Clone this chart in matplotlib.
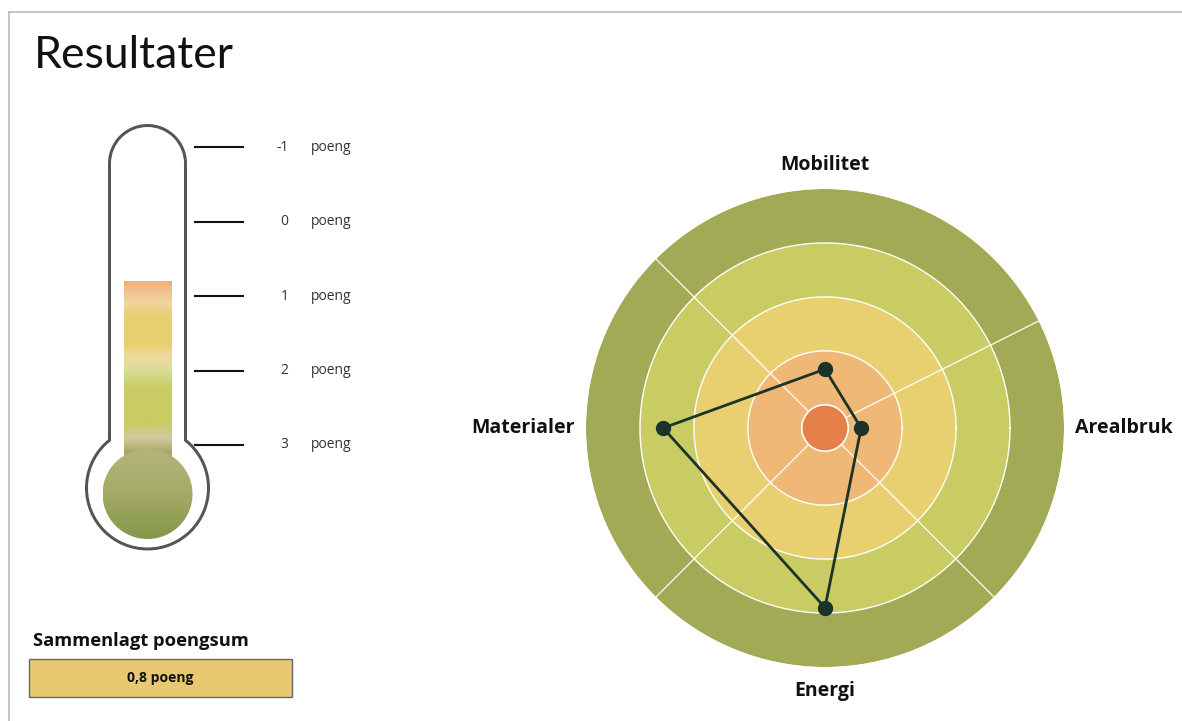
import numpy as np
import matplotlib
matplotlib.use("Agg")
import matplotlib.pyplot as plt
from matplotlib.patches import Circle, Rectangle
from matplotlib.colors import LinearSegmentedColormap, to_rgb

# ---------------- data ----------------
categories = ["Mobilitet", "Arealbruk", "Energi", "Materialer"]
category_angles_deg = [90, 0, 270, 180]
category_scores = [1.09, 0.67, 3.33, 3.0]          # radial position on the target
ring_edges = [0.43, 1.43, 2.43, 3.43, 4.43]          # centre disc + four rings
ring_colors = ["#E5804A", "#EFB877", "#E8D070", "#C8CC62", "#A2AA56"]
spoke_angles_deg = [135, 26.6, -45, 225]

scale_ticks = [-1, 0, 1, 2, 3]
total_score = 0.8

# ---------------- figure ----------------
W, H = 1182, 721
fig = plt.figure(figsize=(W / 100, H / 100), dpi=100)
fig.patch.set_facecolor("white")

LABEL_FONT = dict(family=["Open Sans", "DejaVu Sans"], weight="bold")
SMALL_FONT = dict(family=["Open Sans", "DejaVu Sans"])

# background layer in pixel coordinates (frame, title, total box)
bg = fig.add_axes([0, 0, 1, 1], zorder=0)
bg.set_xlim(0, W)
bg.set_ylim(H, 0)
bg.axis("off")
bg.plot([9, W], [12, 12], color="#BBBBBB", lw=1.2)
bg.plot([9, 9], [12, H], color="#BBBBBB", lw=1.2)
bg.text(34, 56, "Resultater", fontsize=32, family=["Lato", "DejaVu Sans"],
        weight="normal", color="#111111", va="center", ha="left")

bg.text(33, 641, "Sammenlagt poengsum", fontsize=13.2, color="#111111",
        va="center", ha="left", **LABEL_FONT)
bg.add_patch(Rectangle((29, 659), 263, 38, facecolor="#E8C870",
                       edgecolor="#666666", lw=1))
bg.text(160.5, 678, f"{total_score:.1f}".replace(".", ",") + " poeng",
        fontsize=10, color="#111111", va="center", ha="center",
        **LABEL_FONT)

# ---------------- thermometer (y axis = score) ----------------
STEP = 74.4  # pixels per score step
tx0, tx1, ty0, ty1 = 60, 400, 100, 570
th = fig.add_axes([tx0 / W, 1 - ty1 / H, (tx1 - tx0) / W, (ty1 - ty0) / H],
                  zorder=1)
th.set_xlim((tx0 - 147.5) / STEP, (tx1 - 147.5) / STEP)
th.set_ylim((ty1 - 221.7) / STEP, (ty0 - 221.7) / STEP)
th.axis("off")


def u(px):
    return px / STEP


cap_y = -0.782
bulb_y = 3.579
# outline drawn as a grey silhouette with a white silhouette on top
for half, rb, col in [(u(39.5), u(62.5), "#555555"), (u(36.5), u(59.5), "white")]:
    th.add_patch(Circle((0, cap_y), half, color=col, lw=0))
    th.add_patch(Rectangle((-half, cap_y), 2 * half, bulb_y - cap_y,
                           color=col, lw=0))
    th.add_patch(Circle((0, bulb_y), rb, color=col, lw=0))

# mercury column coloured by score level
col_stops = [(0.80, "#F0B07A"), (1.08, "#F0D4A0"), (1.27, "#E8D070"),
             (1.64, "#E8D070"), (1.82, "#EED9A0"), (2.00, "#D8DC98"),
             (2.24, "#C8CC62"), (2.70, "#C8CC62"), (2.90, "#D2CBA0"),
             (3.10, "#A8A866")]
s_bottom = 3.2
svals = np.linspace(total_score, s_bottom, 300)
sp = [s for s, _ in col_stops]
rgb = np.array([to_rgb(c) for _, c in col_stops])
img = np.stack([np.interp(svals, sp, rgb[:, k]) for k in range(3)], axis=1)
img = np.repeat(img[:, None, :], 2, axis=1)
half_col = u(24)
th.imshow(img, extent=[-half_col, half_col, s_bottom, total_score],
          aspect="auto", origin="upper", interpolation="bilinear", zorder=2)

# bulb with vertical gradient
bulb_r = u(45)
bulb_c = 3.66
bcmap = LinearSegmentedColormap.from_list("bulb", ["#B4B47C", "#A4AA66", "#83984A"])
grad = np.linspace(0, 1, 200)[:, None]
bim = th.imshow(grad, cmap=bcmap,
                extent=[-bulb_r, bulb_r, bulb_c + bulb_r, bulb_c - bulb_r],
                aspect="auto", origin="upper", zorder=3)
clip = Circle((0, bulb_c), bulb_r, transform=th.transData, facecolor="none",
              edgecolor="none")
th.add_patch(clip)
bim.set_clip_path(clip)

# scale ticks and labels
for s in scale_ticks:
    th.plot([u(47.5), u(95.5)], [s, s], color="#111111", lw=1.5, zorder=4)
    th.text(u(141), s, f"{s}", fontsize=10, color="#333333", ha="right",
            va="center", **SMALL_FONT)
    th.text(u(163), s, "poeng", fontsize=10, color="#333333", ha="left",
            va="center", **SMALL_FONT)

# ---------------- target / radar ----------------
cx, cy, R = 825, 428, 239
ax = fig.add_axes([(cx - R) / W, 1 - (cy + R) / H, 2 * R / W, 2 * R / H],
                  projection="polar", zorder=2)
ax.set_ylim(0, ring_edges[-1])
ax.grid(False)
ax.set_xticks([])
ax.set_yticks([])
ax.spines["polar"].set_visible(False)
ax.patch.set_alpha(0)

theta = np.linspace(0, 2 * np.pi, 721)
for edge, col in zip(ring_edges[::-1][:-1], ring_colors[::-1][:-1]):
    ax.fill(theta, np.full_like(theta, edge), color=col, lw=0, zorder=1)

for a in spoke_angles_deg:
    t = np.deg2rad(a)
    ax.plot([t, t], [0, ring_edges[-1]], color="white", lw=1, alpha=0.9,
            zorder=2)

for edge in ring_edges[1:-1]:
    ax.plot(theta, np.full_like(theta, edge), color="white", lw=1, zorder=3)

ax.fill(theta, np.full_like(theta, ring_edges[0]), facecolor=ring_colors[0],
        edgecolor="white", lw=1.2, zorder=4)

ang = np.deg2rad(category_angles_deg + category_angles_deg[:1])
vals = category_scores + category_scores[:1]
ax.plot(ang, vals, color="#1B3328", lw=2, zorder=5)
ax.plot(ang[:-1], vals[:-1], "o", color="#1B3328", markersize=10, zorder=6)

label_pos = {
    "Mobilitet": (4.87, "center", "center"),
    "Energi": (4.87, "center", "center"),
    "Arealbruk": (4.63, "left", "center"),
    "Materialer": (4.63, "right", "center"),
}
for name, a in zip(categories, category_angles_deg):
    r, ha, va = label_pos[name]
    ax.text(np.deg2rad(a), r, name, fontsize=14, color="#111111",
            ha=ha, va=va, clip_on=False, **LABEL_FONT)

fig.savefig("out.png", dpi=100, facecolor="white")
